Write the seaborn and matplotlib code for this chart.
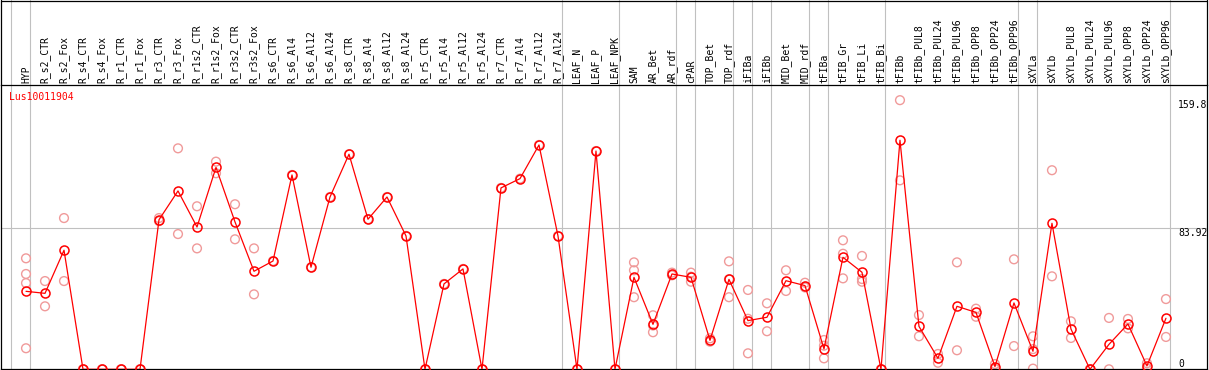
import matplotlib
matplotlib.use("Agg")
import matplotlib.pyplot as plt
import pandas as pd
import seaborn as sns
from matplotlib.lines import Line2D
from matplotlib.transforms import blended_transform_factory

# gene shown in the profile
GENE = "Lus10011904"

# sample names, left to right
categories = [
    "HYP", "R_s2_CTR", "R_s2_Fox", "R_s4_CTR", "R_s4_Fox", "R_r1_CTR", "R_r1_Fox",
    "R_r3_CTR", "R_r3_Fox", "R_r1s2_CTR", "R_r1s2_Fox", "R_r3s2_CTR", "R_r3s2_Fox",
    "R_s6_CTR", "R_s6_Al4", "R_s6_Al12", "R_s6_Al24", "R_s8_CTR", "R_s8_Al4",
    "R_s8_Al12", "R_s8_Al24", "R_r5_CTR", "R_r5_Al4", "R_r5_Al12", "R_r5_Al24",
    "R_r7_CTR", "R_r7_Al4", "R_r7_Al12", "R_r7_Al24", "LEAF_N", "LEAF_P", "LEAF_NPK",
    "SAM", "AR_Bet", "AR_rdf", "cPAR", "TOP_Bet", "TOP_rdf", "iFIBa", "iFIBb",
    "MID_Bet", "MID_rdf", "tFIBa", "tFIB_Gr", "tFIB_Li", "tFIB_Bi", "tFIBb",
    "tFIBb_PUL8", "tFIBb_PUL24", "tFIBb_PUL96", "tFIBb_OPP8", "tFIBb_OPP24",
    "tFIBb_OPP96", "sXYLa", "sXYLb", "sXYLb_PUL8", "sXYLb_PUL24", "sXYLb_PUL96",
    "sXYLb_OPP8", "sXYLb_OPP24", "sXYLb_OPP96",
]

# mean expression per sample
means = [
    46.3, 45.1, 70.7, 0, 0, 0, 0,
    88.8, 105.9, 84.5, 119.9, 87.5, 58.2,
    64.3, 115.4, 60.6, 102.3, 127.7, 89.1,
    102.3, 79.2, 0, 50.7, 59.6, 0,
    107.7, 113.2, 133.2, 79.2, 0, 129.6, 0,
    54.6, 26.7, 56.6, 54.6, 17.2, 53.4, 28.9, 30.9,
    52.6, 49.7, 12.1, 66.5, 57.6, 0, 136.0,
    25.5, 6.5, 37.4, 33.8, 1.6,
    39.4, 10.7, 86.7, 23.9, 0, 14.8,
    26.9, 2.0, 30.3,
]

# individual replicates per sample
replicates = [
    [65.9, 56.6, 51.2, 12.5], [52.4, 37.4], [89.8, 52.4], [0, 0], [0, 0], [0, 0], [0, 0],
    [89.8, 88.0], [131.2, 80.3], [96.8, 71.8], [123.3, 116.4], [98.0, 77.2], [71.8, 44.5],
    [64.3], [115.4], [60.6], [102.3], [127.7], [89.1],
    [102.3], [79.2], [0], [50.7], [59.6], [0],
    [107.7], [113.2], [133.2], [79.2], [0], [129.6], [0],
    [63.5, 58.8, 42.8], [32.1, 22.0, 26.0], [57.4, 55.8], [57.4, 55.0, 52.0],
    [18.4, 16.4], [64.1, 53.5, 42.8], [47.1, 30.0, 9.5], [39.2, 22.6],
    [58.8, 46.5], [51.4, 49.1, 48.6], [17.4, 14.0, 6.5], [76.6, 68.6, 54.0],
    [67.3, 53.6, 52.0], [0, 0], [159.8, 112.2],
    [32.2, 19.6], [9.1, 3.9], [63.5, 11.3], [36.0, 31.2], [3.1, 0.2],
    [65.3, 13.8], [19.6, 12.0, 0.4], [118.2, 55.2], [28.5, 18.6], [0, 0], [30.5, 0.0],
    [29.9, 24.3], [3.6, 0.4], [41.7, 19.2],
]

# last sample of each tissue group
group_last = ["HYP", "R_r7_Al24", "LEAF_NPK", "AR_rdf", "cPAR", "TOP_rdf", "iFIBa",
              "iFIBb", "MID_rdf", "tFIBa", "tFIB_Bi", "tFIBb_OPP96", "sXYLa", "sXYLb_OPP96"]

# values labelled on the right
y_marks = [0, 83.92, 159.8]

W, H = 1209, 370
GRID = "#c0c0c0"
MONO = ["DejaVu Sans Mono"]

sns.set_style("white")
plt.rcParams["font.family"] = MONO

mean_df = pd.DataFrame({"pos": range(len(categories)), "mean": means})
rep_df = pd.DataFrame(
    [(i, v) for i, vals in enumerate(replicates) for v in vals],
    columns=["pos", "value"],
)

fig = plt.figure(figsize=(W / 100, H / 100), dpi=100)
top_px, bot_px = 85, 369.3
ax = fig.add_axes([1 / W, (H - bot_px) / H, 1206 / W, (bot_px - top_px) / H])
ax.set_xlim(-1.316, 62.16)
ax.set_ylim(0, 168.8)

# grid lines
ax.axhline(83.92, color=GRID, lw=0.8, zorder=0)
sep_pos = [-1] + [categories.index(n) for n in group_last]
for p in sep_pos:
    ax.axvline(p + 0.23, ymin=0, ymax=bot_px / (bot_px - top_px), clip_on=False,
               color=GRID, lw=0.8, zorder=0)

sns.scatterplot(data=rep_df, x="pos", y="value", marker="o", s=40,
                facecolors="none", edgecolor="#f09a9a", linewidth=1.0,
                ax=ax, zorder=2, legend=False)
sns.lineplot(data=mean_df, x="pos", y="mean", color="red", lw=0.9,
             marker="o", markersize=6.5, markerfacecolor="none",
             markeredgecolor="red", markeredgewidth=1.1, ax=ax, zorder=3)

ax.set_xlabel("")
ax.set_ylabel("")
ax.set_xticks([])
ax.set_yticks([])
for s in ax.spines.values():
    s.set_color("black")
    s.set_linewidth(0.9)

# header frame
for xs, ys in [([1 / W, 1 / W], [(H - top_px) / H, 1]),
               ([1207 / W, 1207 / W], [(H - top_px) / H, 1]),
               ([1 / W, 1207 / W], [1 - 0.5 / H, 1 - 0.5 / H])]:
    fig.add_artist(Line2D(xs, ys, color="black", lw=0.9, transform=fig.transFigure))

# sample names
tr = blended_transform_factory(ax.transData, fig.transFigure)
for i, name in enumerate(categories):
    ax.text(i, (H - 83) / H, name, transform=tr, rotation=90, ha="center",
            va="bottom", fontsize=7, color="black", clip_on=False)

# value labels on the right
tr2 = blended_transform_factory(fig.transFigure, ax.transData)
for v in y_marks:
    label = f"{v:g}"
    ax.text(1178 / W, v, label, transform=tr2, ha="left",
            va="bottom" if v == 0 else "top", fontsize=7, color="black")

fig.text(9.5 / W, (H - 96.7) / H, GENE, color="red", ha="left", va="center", fontsize=7)

fig.savefig("out.png", dpi=100)
